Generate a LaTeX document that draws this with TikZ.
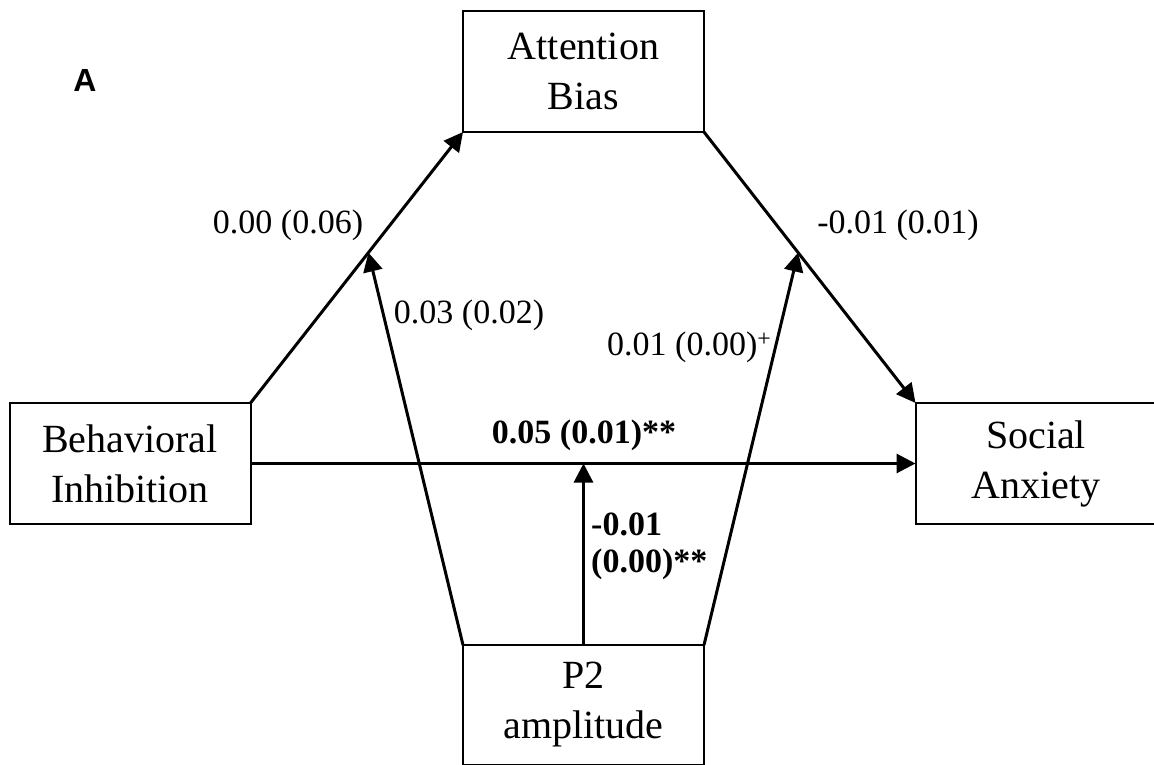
\documentclass[tikz,border=0pt]{standalone}
\usepackage{fontspec}
\setmainfont{Liberation Serif}
\newfontfamily\panelfont{Liberation Sans}
\usetikzlibrary{arrows.meta,calc}
\begin{document}
\begin{tikzpicture}[x=1pt,y=-1pt,
  box/.style={draw, line width=2pt, inner sep=0pt, outer sep=0pt,
    minimum width=241pt, minimum height=121pt, align=center,
    font=\fontsize{40}{50}\selectfont},
  arr/.style={line width=3pt, -{Triangle[length=19pt,width=19pt]}},
  lab/.style={inner sep=0pt, font=\fontsize{34}{37}\selectfont},
  blab/.style={inner sep=0pt, font=\fontsize{34}{37}\selectfont\bfseries}]
\useasboundingbox (0,0) rectangle (1154,765);

% panel letter
\node[inner sep=0pt, font=\panelfont\bfseries\fontsize{32}{32}\selectfont] (panel) at (85,80) {A};

% variables
\node[box] (AB) at (583.5,71.5) {Attention\\Bias};
\node[box] (BI) at (130,463.5) {Behavioral\\Inhibition};
\node[box] (SA) at (1036,463.5) {Social\\Anxiety};
\node[box, minimum height=120pt] (P2) at (583.5,705) {P2\\amplitude};

% moderation targets on the a and b paths
\coordinate (ma) at ($(BI.north east)!0.555!(AB.south west)$);
\coordinate (mb) at ($(AB.south east)!0.445!(SA.north west)$);
\coordinate (mc) at (P2.north |- BI.east);

% paths
\draw[arr] (BI.north east) -- (AB.south west);
\draw[arr] (AB.south east) -- (SA.north west);
\draw[arr] (BI.east) -- (SA.west);
\draw[arr] (P2.north west) -- (ma);
\draw[arr] (P2.north east) -- (mb);
\draw[arr] (P2.north) -- (mc);

% coefficients
\node[lab] (la) at (288,225) {0.00 (0.06)};
\node[lab] (lb) at (898,225) {-0.01 (0.01)};
\node[lab] (lma) at (469,315) {0.03 (0.02)};
\node[lab, anchor=west] (lmb) at (607,347) {0.01 (0.00)\textsuperscript{+}};
\node[blab] (lc) at (584,435) {0.05 (0.01)**};
\node[blab, anchor=west, align=left] (lmc) at (591,546.5) {-0.01\\(0.00)**};
\end{tikzpicture}
\end{document}
